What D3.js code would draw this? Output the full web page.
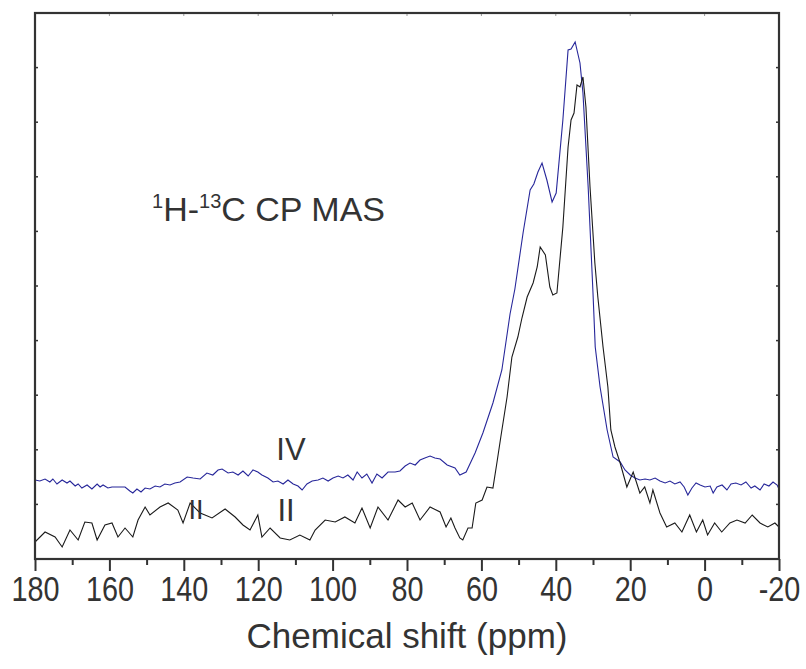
<!DOCTYPE html>
<html><head><meta charset="utf-8">
<script src="https://cdn.jsdelivr.net/npm/d3@7"></script>
<style>body{margin:0;background:#fff}svg{display:block}text{font-family:"Liberation Sans",Arial,sans-serif;fill:#333}</style>
</head><body><svg id="c" width="806" height="669"></svg>
<script>
// Chemical shift (ppm) and intensity (arb. units) for spectrum IV (blue)
const ppmIV = [180,178.7,177.3,176.0,175.2,174.1,172.7,171.4,170.6,169.2,168.4,167.4,166.0,164.7,163.3,162.5,161.7,160.4,159.3,157.7,155.8,154.5,153.7,152.6,151.5,150.4,149.1,147.7,146.4,145.1,143.7,142.4,141.0,139.1,137.5,135.6,133.8,132.2,130.8,129.7,128.1,126.8,125.4,124.1,122.7,121.4,120.1,119.0,117.4,116.0,114.7,113.3,112.0,110.6,109.3,108.2,106.9,105.5,103.9,102.6,101.2,99.9,98.5,97.2,95.9,94.5,93.4,92.1,90.8,89.4,88.1,86.7,85.1,83.2,81.9,80.5,79.2,77.8,76.5,75.2,73.8,72.5,71.1,
  69.2,67.1,65.8,64.1,61.7,59.6,56.9,54.5,52.3,51.0,48.8,46.9,45.9,44.8,43.7,42.4,41.0,39.9,38.1,36.7,35.9,34.8,33.5,32.7,31.3,30.0,29.4,28.1,26.2,24.6,
  22.7,21.4,20.0,18.7,17.4,16.0,14.7,13.3,12.0,10.6,9.3,8.0,6.6,5.5,4.5,3.4,2.3,1.2,-0.1,-1.5,-2.3,-3.3,-4.7,-6.0,-7.1,-8.4,-9.8,-11.1,-12.5,-13.5,-14.9,-16.0,-17.3,-18.4,-19.5,-20];
const intIV = [79,78,80,77,80,75,79,76,78,73,75,71,74,70,75,72,74,71,72,72,72,68,66,70,67,71,70,73,72,75,74,76,77,82,81,80,86,84,89,90,86,87,84,88,83,89,87,84,81,77,78,75,79,75,73,69,75,78,79,81,78,81,83,81,84,79,87,81,85,76,85,81,87,87,88,93,96,94,99,101,103,101,100,
  94,91,84,87,106,126,156,189,245,270,326,369,375,387,396,379,357,366,439,509,510,517,496,466,372,266,212,172,129,102,
  97,89,84,81,79,80,79,81,78,76,78,75,77,72,64,71,76,74,72,73,66,72,74,69,75,76,74,77,71,73,69,75,73,77,74,70];
// Spectrum II (black)
const ppmII = [180,177.3,174.6,172.7,170.6,168.4,166.6,164.7,163.3,161.2,159.3,157.7,155.8,153.7,152.3,150.4,149.1,146.4,144.2,141.6,140.2,138.3,135.6,134.3,132.4,128.9,126.2,124.1,122.2,120.1,119.0,116.8,114.1,111.5,108.8,106.1,104.7,102.0,99.3,96.7,94.0,92.1,89.9,87.8,85.1,82.4,80.5,78.6,76.5,73.8,71.1,69.5,68.2,67.1,65.8,65.0,63.6,62.5,61.5,59.8,58.5,56.9,55.8,54.7,53.1,51.8,50.2,49.1,47.7,46.1,45.0,44.2,42.8,41.6,40.8,39.7,38.1,36.7,35.9,35.1,34.3,33.5,32.7,31.9,30.8,29.5,28.7,27.3,26.0,25.2,24.1,22.7,20.9,19.2,17.4,16.1,14.7,13.9,12.0,10.2,8.0,6.1,4.0,2.2,0.5,-0.8,-2.7,-4.6,-6.8,-8.7,-10.9,-12.8,-14.9,-17.0,-18.9,-20];
const intII = [17,27,22,12,29,19,37,36,19,34,36,22,31,22,39,52,44,52,56,49,36,56,46,44,41,50,42,34,29,44,22,31,21,19,24,19,29,39,37,42,36,51,31,52,39,59,52,56,39,52,47,32,41,31,21,19,31,31,56,59,72,71,97,124,162,202,222,241,262,276,292,312,304,272,264,266,332,412,439,446,474,472,482,452,372,296,262,212,172,129,112,96,72,87,66,72,56,69,46,32,36,27,44,27,39,24,36,27,36,39,36,44,36,32,36,32];
const xTicks = [180,170,160,150,140,130,120,110,100,90,80,70,60,50,40,30,20,10,0,-10,-20];
const xLabels = [180,160,140,120,100,80,60,40,20,0,-20];
const yTickFractions = [0,0.1,0.2,0.3,0.4,0.5,0.6,0.7,0.8,0.9,1];

const svg = d3.select("#c");
const L=35,R=779,T=13,B=559;
const x = d3.scaleLinear().domain([180,-20]).range([L,R]);
const y = d3.scaleLinear().domain([0,546]).range([B,T]);
const yf = d3.scaleLinear().domain([0,1]).range([B,T]);

// inner ticks left/right/top
svg.append("g").selectAll("line").data(yTickFractions).join("line")
  .attr("x1",L).attr("x2",L+3).attr("y1",d=>yf(d)).attr("y2",d=>yf(d)).attr("stroke","#333").attr("stroke-width",1.5);
svg.append("g").selectAll("line").data(yTickFractions).join("line")
  .attr("x1",R).attr("x2",R-3).attr("y1",d=>yf(d)).attr("y2",d=>yf(d)).attr("stroke","#333").attr("stroke-width",1.5);
svg.append("g").selectAll("line").data(xLabels).join("line")
  .attr("x1",d=>x(d)).attr("x2",d=>x(d)).attr("y1",T).attr("y2",T+3).attr("stroke","#999").attr("stroke-width",1);

const line = d3.line().x(d=>x(d[0])).y(d=>y(d[1])).curve(d3.curveLinear);
svg.append("path").datum(ppmIV.map((p,i)=>[p,intIV[i]])).attr("d",line)
  .attr("fill","none").attr("stroke","#27279a").attr("stroke-width",1.1);
svg.append("path").datum(ppmII.map((p,i)=>[p,intII[i]])).attr("d",line)
  .attr("fill","none").attr("stroke","#1a1a1a").attr("stroke-width",1.1);

// frame
svg.append("rect").attr("x",L).attr("y",T).attr("width",R-L).attr("height",B-T)
  .attr("fill","none").attr("stroke","#333").attr("stroke-width",2.2);

// bottom axis
const ax = svg.append("g").attr("transform",`translate(0,${B})`)
  .call(d3.axisBottom(x).tickValues(xTicks).tickSize(12).tickPadding(0)
    .tickFormat(d=>xLabels.includes(d)?d:""));
ax.select(".domain").remove();
ax.selectAll(".tick line").attr("stroke","#333").attr("stroke-width",2)
  .attr("y2",d=>xLabels.includes(d)?12:6);
ax.selectAll(".tick text").attr("y",42).attr("dy",0).attr("transform","scale(0.8,1)")
  .style("font-size","36px")
  .style("font-family",'"Liberation Sans",Arial,sans-serif').attr("fill","#333");

svg.append("text").attr("x",407).attr("y",648).attr("text-anchor","middle")
  .style("font-size","35px").text("Chemical shift (ppm)");

const t = svg.append("text").attr("x",152).attr("y",221).style("font-size","34px");
t.append("tspan").attr("dy",-13).style("font-size","20px").text("1");
t.append("tspan").attr("dy",13).text("H-");
t.append("tspan").attr("dy",-13).style("font-size","20px").text("13");
t.append("tspan").attr("dy",13).text("C CP MAS");

svg.append("text").attr("x",291).attr("y",460).attr("text-anchor","middle").style("font-size","31px").text("IV");
svg.append("text").attr("x",286).attr("y",521).attr("text-anchor","middle").style("font-size","31px").text("II");
svg.append("text").attr("x",196).attr("y",519).attr("text-anchor","middle").style("font-size","27px").text("II");
</script></body></html>
